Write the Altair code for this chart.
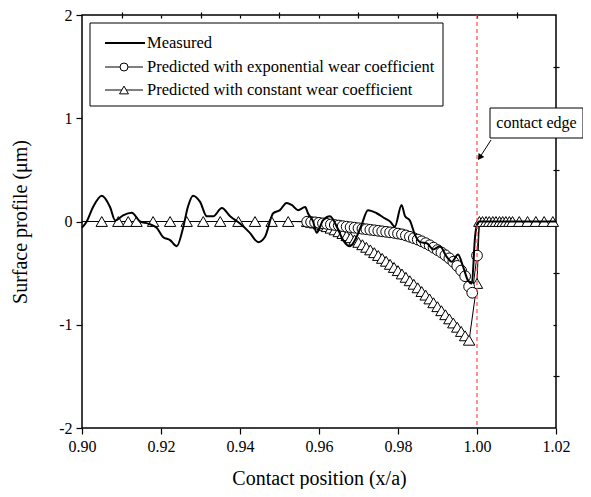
import altair as alt
import pandas as pd

FONT = "Liberation Serif"

# ---- data ----
meas_x = [0.9000, 0.9012, 0.9028, 0.9050, 0.9071, 0.9084, 0.9104, 0.9126, 0.9147, 0.9167,
          0.9189, 0.9205, 0.9223, 0.9240, 0.9256, 0.9268, 0.9281, 0.9299, 0.9316, 0.9332,
          0.9354, 0.9375, 0.9400, 0.9425, 0.9446, 0.9463, 0.9484, 0.9501, 0.9518, 0.9531,
          0.9547, 0.9565, 0.9572, 0.9585, 0.9594, 0.9610, 0.9628, 0.9645, 0.9661, 0.9678,
          0.9695, 0.9708, 0.9724, 0.9746, 0.9767, 0.9780, 0.9792, 0.9809, 0.9818, 0.9830,
          0.9843, 0.9856, 0.9873, 0.9889, 0.9906, 0.9923, 0.9936, 0.9952, 0.9965, 0.9977,
          0.9987, 0.9995, 1.0000, 1.0005, 1.0200]
meas_y = [-0.06, 0.00, 0.14, 0.25, 0.14, 0.01, 0.06, 0.085, 0.00, -0.02,
          -0.06, -0.15, -0.18, -0.24, -0.06, 0.14, 0.25, 0.19, 0.05, 0.05,
          0.13, 0.05, -0.02, -0.11, -0.20, -0.15, 0.08, 0.11, 0.18, 0.16,
          0.11, 0.14, 0.08, 0.00, -0.11, 0.01, 0.05, -0.05, -0.18, -0.24,
          -0.15, -0.03, 0.11, 0.08, 0.03, 0.00, -0.05, 0.16, 0.05, 0.01,
          -0.13, -0.20, -0.21, -0.27, -0.24, -0.34, -0.39, -0.32, -0.44, -0.57,
          -0.60, -0.15, -0.03, 0.00, 0.00]

# flat part before the worn zone (model nodes)
flat_left_x = [0.900, 0.905, 0.9092, 0.9117, 0.9138, 0.918, 0.9223, 0.9265, 0.9307, 0.935,
               0.9396, 0.9438, 0.948, 0.9522]
flat_left_y = [0, 0, 0, 0, 0, 0, 0, 0, 0, 0, 0, 0, 0, 0]

# worn zone nodes
curve_x = [0.957, 0.958, 0.959, 0.960, 0.961, 0.962, 0.963, 0.964, 0.965, 0.966,
           0.967, 0.968, 0.969, 0.970, 0.971, 0.972, 0.973, 0.974, 0.975, 0.976,
           0.977, 0.978, 0.979, 0.980, 0.981, 0.982, 0.983, 0.984, 0.985, 0.986,
           0.987, 0.988, 0.989, 0.990, 0.991, 0.992, 0.993, 0.994, 0.995, 0.996,
           0.997, 0.998]
exp_curve_y = [-0.002, -0.005, -0.008, -0.013, -0.018, -0.023, -0.029, -0.034, -0.039, -0.045,
               -0.050, -0.055, -0.060, -0.065, -0.070, -0.075, -0.080, -0.085, -0.090, -0.095,
               -0.100, -0.105, -0.110, -0.117, -0.124, -0.135, -0.148, -0.161, -0.175, -0.192,
               -0.210, -0.230, -0.253, -0.277, -0.300, -0.327, -0.357, -0.390, -0.430, -0.475,
               -0.530, -0.630]
const_curve_y = [-0.001, -0.007, -0.015, -0.025, -0.037, -0.050, -0.065, -0.081, -0.099, -0.117,
                 -0.137, -0.157, -0.179, -0.202, -0.225, -0.250, -0.275, -0.302, -0.329, -0.357,
                 -0.385, -0.415, -0.445, -0.476, -0.508, -0.541, -0.574, -0.608, -0.642, -0.678,
                 -0.713, -0.750, -0.787, -0.825, -0.864, -0.903, -0.943, -0.983, -1.024, -1.065,
                 -1.107, -1.150]

exp_edge_x = [0.9988, 1.000]
exp_edge_y = [-0.69, -0.33]
const_edge_x = [1.000]
const_edge_y = [-0.60]

# flat part beyond the contact edge
flat_right_x = [1.0006, 1.0014, 1.0023, 1.0031, 1.004, 1.0048, 1.0057, 1.0065, 1.0073, 1.0082,
                1.009, 1.0107, 1.0128, 1.0149, 1.017, 1.0192, 1.020]
flat_right_y = [0, 0, 0, 0, 0, 0, 0, 0, 0, 0, 0, 0, 0, 0, 0, 0, 0]

edge_x = [1.0]

x_major = [0.90, 0.92, 0.94, 0.96, 0.98, 1.00, 1.02]
x_minor = [0.91, 0.93, 0.95, 0.97, 0.99, 1.01]
x_top = [0.91, 0.92, 0.93, 0.94, 0.95, 0.96, 0.97, 0.98, 0.99, 1.00, 1.01]
y_major = [-2, -1, 0, 1, 2]
y_minor = [-1.5, -0.5, 0.5, 1.5]
y_right = [-1.5, -1, -0.5, 0, 0.5, 1, 1.5]

legend_labels = ["Measured",
                 "Predicted with exponential wear coefficient",
                 "Predicted with constant wear coefficient"]
annot_text = ["contact edge"]

W, H = 474, 413

xs = alt.Scale(domain=[0.9, 1.02], nice=False, zero=False)
ys = alt.Scale(domain=[-2, 2], nice=False, zero=False)

meas_df = pd.DataFrame({"x": meas_x, "y": meas_y})
exp_df = pd.DataFrame({"x": flat_left_x + curve_x + exp_edge_x + flat_right_x,
                       "y": flat_left_y + exp_curve_y + exp_edge_y + flat_right_y})
const_df = pd.DataFrame({"x": flat_left_x + curve_x + const_edge_x + flat_right_x,
                         "y": flat_left_y + const_curve_y + const_edge_y + flat_right_y})
edge_df = pd.DataFrame({"x": edge_x})

base = dict(domain=False, grid=False, labelFont=FONT, titleFont=FONT, labelFlush=False,
            tickColor="black", labelColor="black", titleColor="black", tickWidth=1.2)

const_line = alt.Chart(const_df).mark_line(color="black", strokeWidth=1).encode(
    x=alt.X("x:Q", scale=xs, axis=alt.Axis(
        values=x_major, labelExpr="format(datum.value, '.2f')", tickSize=6,
        labelFontSize=16, labelPadding=4,
        title="Contact position (x/a)", titleFontSize=20, titleFontWeight="normal",
        titleX=237, titleY=40, **base)),
    y=alt.Y("y:Q", scale=ys, axis=alt.Axis(
        values=y_major, labelExpr="'' + datum.value", tickSize=6, labelFontSize=16,
        labelPadding=4,
        title="Surface profile (μm)", titleFontSize=20, titleFontWeight="normal",
        titleX=-52, titleY=206.5, **base)),
)

exp_line = alt.Chart(exp_df).mark_line(color="black", strokeWidth=1).encode(
    x=alt.X("x:Q", scale=xs, axis=alt.Axis(values=x_minor, labels=False, tickSize=3,
                                           title=None, **base)),
    y=alt.Y("y:Q", scale=ys, axis=alt.Axis(values=y_minor, labels=False, tickSize=3,
                                           title=None, **base)),
)

const_pts = alt.Chart(const_df).transform_filter(
    (alt.datum.x > 0.9001) & (alt.datum.x < 1.0199)
).mark_point(shape="triangle-up", filled=True, fill="white", stroke="black",
             strokeWidth=1, size=130, opacity=1).encode(
    x=alt.X("x:Q", scale=xs, axis=alt.Axis(orient="bottom", offset=-H, values=x_top,
                                           labels=False, tickSize=3, title=None, **base)),
    y=alt.Y("y:Q", scale=ys, axis=alt.Axis(orient="left", offset=-W, values=y_right,
                                           labels=False, tickSize=3, title=None, **base)),
)

exp_pts = alt.Chart(exp_df).transform_filter(
    (alt.datum.x > 0.956) & (alt.datum.x < 1.0003)
).mark_point(shape="circle", filled=True, fill="white", stroke="black",
             strokeWidth=1, size=115, opacity=1).encode(
    x=alt.X("x:Q", scale=xs, axis=None),
    y=alt.Y("y:Q", scale=ys, axis=None),
)

meas_line = alt.Chart(meas_df).mark_line(color="black", strokeWidth=2,
                                         interpolate="monotone").encode(
    x=alt.X("x:Q", scale=xs, axis=None),
    y=alt.Y("y:Q", scale=ys, axis=None),
)

edge_rule = alt.Chart(edge_df).mark_rule(color="#ff4d4d", strokeDash=[4, 3],
                                         strokeWidth=1.2).encode(
    x=alt.X("x:Q", scale=xs, axis=None),
)

one = pd.DataFrame({"t": annot_text})

annot_box = alt.Chart(one).mark_rect(fill="white", stroke="black", strokeWidth=1).encode(
    x=alt.value(408), x2=alt.value(501), y=alt.value(93), y2=alt.value(123))
annot_txt = alt.Chart(one).mark_text(font=FONT, fontSize=16, align="center",
                                     baseline="middle", color="black").encode(
    x=alt.value(454.5), y=alt.value(108), text="t:N")
arrow_line = alt.Chart(one).mark_rule(color="black", strokeWidth=1).encode(
    x=alt.value(409), y=alt.value(125), x2=alt.value(398), y2=alt.value(142))
arrow_head = alt.Chart(one).mark_point(shape="triangle-up", filled=True, color="black",
                                       size=50, angle=215, opacity=1).encode(
    x=alt.value(397.7), y=alt.value(142.5))

leg_df = [pd.DataFrame({"label": [lab]}) for lab in legend_labels]
leg_rows = [28, 52, 75]

leg_box = alt.Chart(one).mark_rect(fill="white", stroke="black", strokeWidth=1).encode(
    x=alt.value(8), x2=alt.value(361), y=alt.value(8), y2=alt.value(91))
leg_l1 = alt.Chart(one).mark_rule(color="black", strokeWidth=2).encode(
    x=alt.value(23), x2=alt.value(63), y=alt.value(leg_rows[0]), y2=alt.value(leg_rows[0]))
leg_l2 = alt.Chart(one).mark_rule(color="black", strokeWidth=1).encode(
    x=alt.value(23), x2=alt.value(61), y=alt.value(leg_rows[1]), y2=alt.value(leg_rows[1]))
leg_l3 = alt.Chart(one).mark_rule(color="black", strokeWidth=1).encode(
    x=alt.value(23), x2=alt.value(61), y=alt.value(leg_rows[2]), y2=alt.value(leg_rows[2]))
leg_p2 = alt.Chart(one).mark_point(shape="circle", filled=True, fill="white", stroke="black",
                                   strokeWidth=1, size=64, opacity=1).encode(
    x=alt.value(42), y=alt.value(leg_rows[1]))
leg_p3 = alt.Chart(one).mark_point(shape="triangle-up", filled=True, fill="white",
                                   stroke="black", strokeWidth=1, size=80, opacity=1).encode(
    x=alt.value(42), y=alt.value(leg_rows[2]))
leg_texts = [
    alt.Chart(leg_df[i]).mark_text(font=FONT, fontSize=16.5, align="left",
                                   baseline="middle", color="black").encode(
        x=alt.value(65), y=alt.value(leg_rows[i]), text="label:N")
    for i in range(3)
]

chart = alt.layer(
    const_line, exp_line, const_pts, exp_pts, meas_line, edge_rule,
    arrow_line, arrow_head, annot_box, annot_txt,
    leg_box, leg_l1, leg_l2, leg_l3, leg_p2, leg_p3, *leg_texts
).resolve_axis(x="independent", y="independent").properties(
    width=W, height=H,
    autosize=alt.AutoSizeParams(type="none"),
    padding={"left": 74, "top": 7, "right": 27, "bottom": 61},
    background="white",
).configure_view(stroke="black", strokeWidth=1.5)

chart.save("out.html", embed_options={"renderer": "svg", "actions": False})
